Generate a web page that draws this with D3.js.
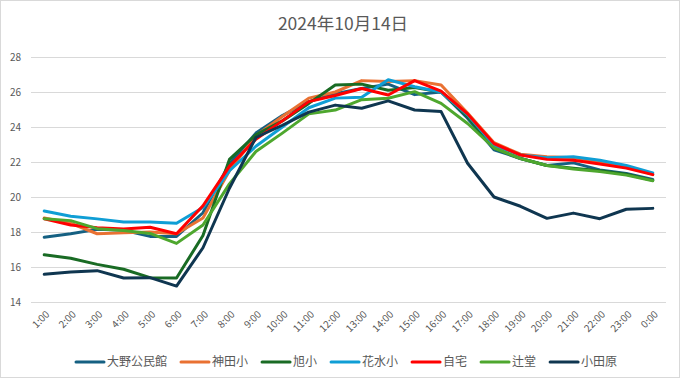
<!DOCTYPE html>
<html><head><meta charset="utf-8">
<script src="https://cdn.jsdelivr.net/npm/d3@7"></script>
<style>body{margin:0;background:#fff}svg{display:block}text{font-family:"Noto Sans CJK JP","Noto Sans",sans-serif}</style>
</head><body><svg id="c" width="681" height="379"></svg>
<script>
const title = "2024年10月14日";
const categories = ["1:00","2:00","3:00","4:00","5:00","6:00","7:00","8:00","9:00","10:00","11:00","12:00","13:00","14:00","15:00","16:00","17:00","18:00","19:00","20:00","21:00","22:00","23:00","0:00"];
const seriesNames = ["大野公民館","神田小","旭小","花水小","自宅","辻堂","小田原"];
const yTicks = [14,16,18,20,22,24,26,28];
const oono   = [17.7,17.9,18.15,18.1,17.75,17.75,19.1,21.9,23.65,24.65,25.45,25.9,26.2,26.45,25.85,26.0,24.5,22.7,22.2,21.8,21.95,21.55,21.35,21.0];
const kanda  = [18.8,18.5,17.9,17.95,18.0,17.9,18.8,21.5,23.5,24.6,25.65,26.0,26.65,26.6,26.65,26.4,24.8,23.1,22.45,22.3,22.25,22.0,21.75,21.3];
const asahi  = [16.7,16.5,16.15,15.87,15.39,15.37,17.8,22.15,23.55,24.35,25.35,26.4,26.45,26.1,26.25,26.0,24.6,22.8,22.2,21.8,21.65,21.5,21.3,20.95];
const hanami = [19.2,18.9,18.75,18.57,18.57,18.5,19.4,21.5,22.9,24.0,25.1,25.65,25.7,26.7,26.3,26.0,24.7,22.95,22.4,22.25,22.3,22.1,21.8,21.38];
const jitaku = [18.75,18.4,18.25,18.17,18.27,17.9,19.5,21.75,23.3,24.35,25.45,25.8,26.2,25.83,26.65,26.05,24.75,23.05,22.4,22.15,22.1,21.88,21.65,21.28];
const tsuji  = [18.76,18.65,18.19,18.08,17.92,17.35,18.4,20.75,22.6,23.65,24.75,24.97,25.56,25.64,26.02,25.35,24.2,22.8,22.2,21.8,21.6,21.45,21.25,20.93];
const odawara= [15.58,15.71,15.79,15.37,15.39,14.91,17.1,20.5,23.4,24.1,24.85,25.25,25.07,25.49,24.97,24.88,21.93,20.0,19.47,18.78,19.08,18.76,19.3,19.35];
const seriesValues = [oono,kanda,asahi,hanami,jitaku,tsuji,odawara];
const colors = ["#156082","#E97132","#196B24","#0F9ED5","#FF0000","#4EA72E","#0F3650"];

const svg = d3.select("#c");
svg.append("rect").attr("x",0.5).attr("y",0.5).attr("width",679).attr("height",377)
  .attr("fill","#fff").attr("stroke","#d9d9d9");
svg.append("text").attr("x",343).attr("y",30).attr("text-anchor","middle")
  .attr("font-size",17.5).attr("fill","#595959").text(title);

const x = d3.scaleBand().domain(categories).range([31,666]);
const y = d3.scaleLinear().domain([14,28]).range([302,57]);

const grid = svg.append("g");
grid.selectAll("line").data(yTicks).join("line")
  .attr("x1",31).attr("x2",666).attr("y1",d=>Math.round(y(d))+0.5).attr("y2",d=>Math.round(y(d))+0.5)
  .attr("stroke","#d9d9d9").attr("stroke-width",1);

const yAxis = svg.append("g").attr("transform","translate(21,0)")
  .call(d3.axisLeft(y).tickValues(yTicks).tickSize(0).tickPadding(0));
yAxis.select(".domain").remove();
yAxis.selectAll("text").attr("font-size",10).attr("fill","#595959").attr("font-family",'"Noto Sans CJK JP","Noto Sans",sans-serif');

const xAxis = svg.append("g").attr("transform","translate(0,302)")
  .call(d3.axisBottom(x).tickSize(0).tickPadding(0));
xAxis.select(".domain").remove();
xAxis.selectAll("text").attr("font-size",10).attr("fill","#595959")
  .attr("font-family",'"Noto Sans CJK JP","Noto Sans",sans-serif')
  .attr("text-anchor","end").attr("dy",null).attr("y",0)
  .attr("transform","translate(6,13) rotate(-45)");

const line = d3.line().x((d,i)=>x(categories[i])+x.bandwidth()/2).y(d=>y(d));
svg.append("g").selectAll("path").data(seriesValues).join("path")
  .attr("d",d=>line(d)).attr("fill","none").attr("stroke",(d,i)=>colors[i])
  .attr("stroke-width",3).attr("stroke-linejoin","round").attr("stroke-linecap","round");

// legend
const lg = svg.append("g").attr("transform","translate(76,362)");
let lx = 0;
seriesNames.forEach((name,i)=>{
  const g = lg.append("g").attr("transform",`translate(${lx},0)`);
  g.append("line").attr("x1",0).attr("x2",28).attr("y1",0).attr("y2",0)
    .attr("stroke",colors[i]).attr("stroke-width",3).attr("stroke-linecap","round");
  const t = g.append("text").attr("x",31).attr("y",4).attr("font-size",12).attr("fill","#595959").text(name);
  lx += 31 + t.node().getComputedTextLength() + 14;
});
</script></body></html>
